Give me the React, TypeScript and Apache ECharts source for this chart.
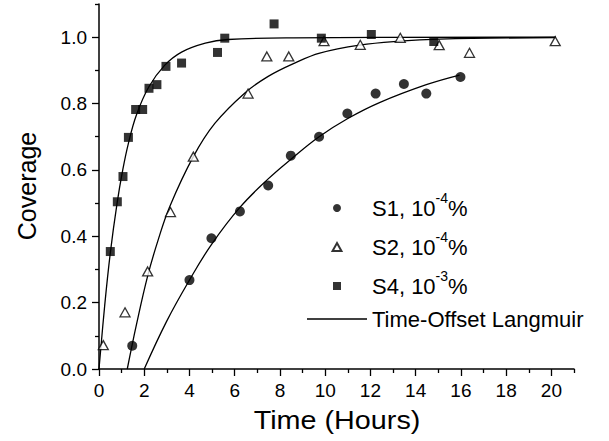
import React, { useEffect, useRef } from "react";
import * as echarts from "echarts";

// ---- data ----
// measured coverage points [time (h), coverage]
const s1Points: [number, number][] = [
  [1.47, 0.07], [4.0, 0.268], [4.97, 0.394], [6.23, 0.475], [7.48, 0.553],
  [8.48, 0.643], [9.73, 0.70], [10.98, 0.77], [12.23, 0.83], [13.48, 0.859],
  [14.47, 0.83], [15.98, 0.88],
];
const s2Points: [number, number][] = [
  [0.19, 0.072], [1.15, 0.171], [2.15, 0.294], [3.16, 0.473], [4.17, 0.64],
  [6.59, 0.83], [7.42, 0.942], [8.39, 0.942], [9.95, 0.988], [11.55, 0.977],
  [13.32, 0.998], [15.04, 0.976], [16.38, 0.953], [20.17, 0.988],
];
const s4Points: [number, number][] = [
  [0.5, 0.354], [0.81, 0.504], [1.06, 0.58], [1.3, 0.698], [1.62, 0.782],
  [1.93, 0.782], [2.21, 0.846], [2.56, 0.857], [2.96, 0.912], [3.65, 0.922],
  [5.24, 0.954], [5.56, 0.997], [7.74, 1.04], [9.83, 0.997], [12.04, 1.008],
  [14.8, 0.987],
];
// fitted curves
const s1Fit: [number, number][] = [
  [2.0, 0], [3.0, 0.145], [4.0, 0.268], [4.97, 0.375], [6.23, 0.487],
  [7.48, 0.573], [8.5, 0.633], [9.73, 0.7], [11.0, 0.755], [12.4, 0.803],
  [14.47, 0.857], [15.94, 0.886],
];
const s2Fit: [number, number][] = [
  [1.25, 0], [1.66, 0.135], [2.15, 0.28], [2.62, 0.39], [3.13, 0.49],
  [4.17, 0.64], [5.12, 0.74], [6.45, 0.832], [7.48, 0.882], [8.65, 0.922],
  [9.76, 0.952], [11.52, 0.976], [13.29, 0.988], [15.05, 0.994], [20.2, 0.999],
];
const s4Fit: [number, number][] = [
  [0, 0], [0.25, 0.19], [0.5, 0.35], [0.8, 0.5], [1.05, 0.6], [1.3, 0.68],
  [1.65, 0.765], [2.2, 0.85], [2.9, 0.915], [3.65, 0.955], [4.7, 0.982],
  [5.7, 0.993], [8.6, 0.998], [20.2, 1.0],
];

const seriesNames = ["S1, 10^-4%", "S2, 10^-4%", "S4, 10^-3%"];
const fitName = "Time-Offset Langmuir";
const xTitle = "Time (Hours)";
const yTitle = "Coverage";

const xMajorTicks = [0, 2, 4, 6, 8, 10, 12, 14, 16, 18, 20];
const xMinorTicks = [1, 3, 5, 7, 9, 11, 13, 15, 17, 19, 21];
const yMajorTicks = [0, 0.2, 0.4, 0.6, 0.8, 1.0];
const yMinorTicks = [0.1, 0.3, 0.5, 0.7, 0.9, 1.1];

const FONT = '"Liberation Sans", Arial, Helvetica, sans-serif';

export default function App() {
  const ref = useRef<HTMLDivElement>(null);

  useEffect(() => {
    if (!ref.current) return;
    const chart = echarts.init(ref.current, undefined, { renderer: "svg" });

    const axisLine = { show: true, lineStyle: { color: "#000", width: 1.5 } };

    const fitSeries = [s1Fit, s2Fit, s4Fit].map((d) => ({
      type: "line",
      name: fitName,
      data: d,
      smooth: 0.4,
      symbol: "none",
      lineStyle: { color: "#000", width: 1.3 },
      itemStyle: { color: "#000" },
      z: 2,
    }));

    const option: any = {
      animation: false,
      backgroundColor: "#fff",
      grid: { left: 99, right: 35, top: 4, bottom: 72, containLabel: false },
      xAxis: [
        {
          type: "value",
          min: 0,
          max: 21,
          axisLine,
          splitLine: { show: false },
          axisTick: {
            show: true,
            inside: false,
            length: 7,
            customValues: xMajorTicks,
            lineStyle: { color: "#000", width: 1.3 },
          },
          axisLabel: {
            show: true,
            customValues: xMajorTicks,
            margin: 12,
            color: "#000",
            fontSize: 19,
            fontFamily: FONT,
          },
        },
        {
          type: "value",
          min: 0,
          max: 21,
          position: "bottom",
          axisLine: { show: false },
          splitLine: { show: false },
          axisTick: {
            show: true,
            inside: false,
            length: 4,
            customValues: xMinorTicks,
            lineStyle: { color: "#000", width: 1.3 },
          },
          axisLabel: { show: false },
        },
      ],
      yAxis: [
        {
          type: "value",
          min: 0,
          max: 1.1,
          position: "left",
          axisLine,
          splitLine: { show: false },
          axisTick: {
            show: true,
            inside: false,
            length: 7,
            customValues: yMajorTicks,
            lineStyle: { color: "#000", width: 1.3 },
          },
          axisLabel: {
            show: true,
            customValues: yMajorTicks,
            margin: 12,
            color: "#000",
            fontSize: 19,
            fontFamily: FONT,
            formatter: (v: number) => v.toFixed(1),
          },
        },
        {
          type: "value",
          min: 0,
          max: 1.1,
          position: "left",
          axisLine: { show: false },
          splitLine: { show: false },
          axisTick: {
            show: true,
            inside: false,
            length: 4,
            customValues: yMinorTicks,
            lineStyle: { color: "#000", width: 1.3 },
          },
          axisLabel: { show: false },
        },
      ],
      legend: {
        orient: "vertical",
        left: 307,
        top: 191,
        padding: 0,
        itemGap: 11,
        itemWidth: 60,
        itemHeight: 8,
        symbolKeepAspect: true,
        selectedMode: false,
        data: [
          { name: seriesNames[0], icon: "circle" },
          { name: seriesNames[1], icon: "path://M5,0L10,9L0,9Z" },
          { name: seriesNames[2], icon: "path://M0,0H9V9H0Z" },
          { name: fitName, icon: "path://M0,0H60V1.3H0Z" },
        ],
        formatter: (name: string) => {
          const m = name.match(/^(.*10)\^(-\d)(%)$/);
          if (m) return `{a|${m[1]}}{s|${m[2]}}{a|${m[3]}}`;
          return `{b|${name}}`;
        },
        textStyle: {
          color: "#000",
          fontFamily: FONT,
          fontSize: 22,
          rich: {
            a: { fontSize: 22, lineHeight: 34, fontFamily: FONT, color: "#000" },
            s: { fontSize: 14, lineHeight: 14, verticalAlign: "top", fontFamily: FONT, color: "#000" },
            b: { fontSize: 22, lineHeight: 10, fontFamily: FONT, color: "#000" },
          },
        },
      },
      graphic: [
        {
          type: "text",
          x: 27,
          y: 186,
          rotation: Math.PI / 2,
          style: {
            text: yTitle,
            fontSize: 25,
            fontFamily: FONT,
            fill: "#000",
            align: "center",
            verticalAlign: "middle",
          },
        },
        {
          type: "text",
          x: 337,
          y: 421,
          scaleX: 1.15,
          style: {
            text: xTitle,
            fontSize: 25,
            fontFamily: FONT,
            fill: "#000",
            align: "center",
            verticalAlign: "middle",
          },
        },
      ],
      series: [
        ...fitSeries,
        {
          type: "scatter",
          name: seriesNames[0],
          data: s1Points,
          symbol: "circle",
          symbolSize: 10,
          itemStyle: { color: "#000" },
          z: 3,
        },
        {
          type: "scatter",
          name: seriesNames[1],
          data: s2Points,
          symbol: "triangle",
          symbolSize: [10, 9],
          itemStyle: { color: "#fff", borderColor: "#000", borderWidth: 1.3 },
          z: 3,
        },
        {
          type: "scatter",
          name: seriesNames[2],
          data: s4Points,
          symbol: "rect",
          symbolSize: 9,
          itemStyle: { color: "#000" },
          z: 3,
        },
      ],
    };

    chart.setOption(option);
    return () => chart.dispose();
  }, []);

  return (
    <div
      ref={ref}
      style={{ position: "fixed", left: 0, top: 0, width: 609, height: 441, background: "#fff" }}
    />
  );
}
